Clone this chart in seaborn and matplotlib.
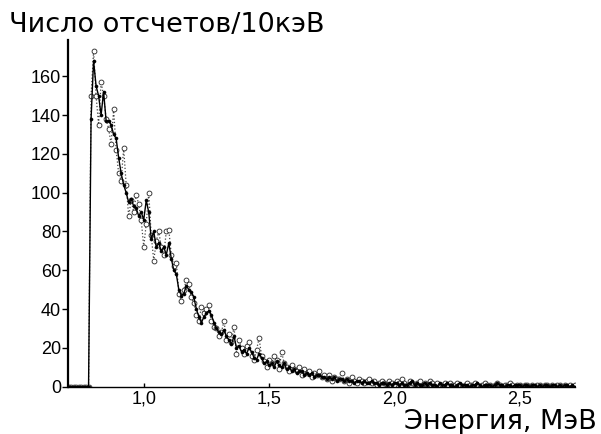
import numpy as np
import matplotlib
matplotlib.use("Agg")
import matplotlib.pyplot as plt
import seaborn as sns

# Counts per 10 keV bin, starting at 0.70 MeV
series_a = ([0, 0, 0, 0, 0, 0, 0, 0, 0,
             138, 168, 155, 150, 140, 152, 137, 137, 135, 130,
             128, 118, 110, 104, 100, 95, 97, 93, 92, 88,
             90, 86, 96, 90, 76, 80, 72, 74, 70, 72,
             68, 74, 66, 60, 58, 50, 47, 48, 52, 50,
             49, 46, 40, 36, 33, 36, 38, 39, 37, 33,
             30, 28, 27, 29, 26, 24, 22, 26, 20, 21,
             18, 19, 17, 20, 18, 15, 14, 17, 15, 12,
             13, 11, 12, 10, 13, 11, 10, 12, 9, 10,
             8, 9, 7, 8, 8, 6, 7, 6, 7, 5,
             6, 6, 5, 5, 4, 5, 4, 5, 3, 4,
             4, 3,
             4, 3, 3, 2, 3, 3, 2, 3, 2, 2, 3, 2, 2, 1, 2, 2, 1, 2, 1, 2,
             2, 1, 2, 1, 1, 2, 3, 1, 2, 1, 1, 2, 1, 2, 1, 1, 0, 2, 1, 1,
             2, 1, 1, 0, 1, 2, 1, 1, 1, 0, 1, 1, 2, 1, 0, 1, 1, 1, 0, 1,
             2, 1, 1, 0, 1, 1, 0, 1, 1, 1, 0, 1, 1, 0, 1, 1, 0, 1, 0, 1,
             1, 0, 1, 1, 0, 1, 0, 1, 1, 0, 1, 0])

series_b = ([0, 0, 0, 0, 0, 0, 0, 0, 0,
             150, 173, 150, 135, 157, 150, 138, 133, 125, 143,
             122, 110, 106, 123, 104, 88, 96, 90, 99, 94,
             86, 72, 84, 100, 78, 65, 75, 80, 72, 68,
             80, 81, 68, 62, 64, 48, 44, 50, 55, 53,
             46, 43, 37, 34, 41, 38, 40, 42, 34, 31,
             30, 26, 28, 34, 24, 27, 23, 31, 17, 24,
             20, 17, 21, 23, 16, 14, 19, 25, 16, 13,
             10, 14, 12, 16, 14, 9, 18, 12, 10, 8,
             11, 9, 8, 10, 6, 9, 7, 8, 5, 7,
             6, 8, 5, 6, 4, 6, 3, 5, 4, 4,
             7, 3,
             4, 2, 5, 3, 2, 4, 3, 2, 3, 4, 2, 3, 1, 2, 3, 2, 1, 3, 2, 1,
             3, 2, 4, 2, 1, 3, 2, 1, 2, 3, 1, 2, 1, 3, 2, 1, 2, 0, 1, 2,
             1, 2, 1, 1, 2, 1, 0, 1, 2, 1, 1, 2, 1, 0, 1, 2, 1, 1, 0, 1,
             2, 1, 0, 1, 1, 2, 1, 0, 1, 1, 0, 1, 1, 0, 1, 0, 1, 1, 0, 1,
             1, 0, 1, 0, 1, 1, 0, 1, 0, 1, 0, 1])

e_start = 0.70
bin_width = 0.01
energy_a = e_start + bin_width * np.arange(len(series_a))
energy_b = e_start + bin_width * np.arange(len(series_b))

y_ticks = [0, 20, 40, 60, 80, 100, 120, 140, 160]
x_ticks = [1.0, 1.5, 2.0, 2.5]
x_tick_labels = ["1,0", "1,5", "2,0", "2,5"]
y_title = "Число отсчетов/10кэВ"
x_title = "Энергия, МэВ"

sns.set_style("ticks")
plt.rcParams["font.family"] = ["Liberation Sans", "DejaVu Sans"]
plt.rcParams["text.color"] = "black"
plt.rcParams["xtick.color"] = "black"
plt.rcParams["ytick.color"] = "black"
plt.rcParams["axes.edgecolor"] = "black"

W, H = 601, 434
fig = plt.figure(figsize=(W / 100, H / 100), dpi=100)
ax = fig.add_axes([68 / W, 47.3 / H, (575 - 68) / W, (386.7 - 40) / H])

sns.lineplot(x=energy_b, y=series_b, ax=ax, color="#444444", linestyle=":",
             linewidth=0.9, marker="o", markersize=3.5, markerfacecolor="white",
             markeredgecolor="#222222", markeredgewidth=0.6)
sns.lineplot(x=energy_a, y=series_a, ax=ax, color="black", linewidth=1.0,
             marker="o", markersize=2.2, markerfacecolor="black",
             markeredgecolor="black", markeredgewidth=0.4)

ax.set_xlim(0.698, 2.72)
ax.set_ylim(0, 178.7)
ax.set_yticks(y_ticks)
ax.set_xticks(x_ticks)
ax.set_xticklabels(x_tick_labels)
ax.tick_params(axis="y", direction="out", length=4, width=1, pad=1, labelsize=13,
               colors="black")
ax.tick_params(axis="x", direction="in", length=3, width=1, pad=3, labelsize=13,
               colors="black")
for s in ["top", "right"]:
    ax.spines[s].set_visible(False)
ax.spines["left"].set_linewidth(1.6)
ax.spines["bottom"].set_linewidth(1.0)
ax.set_xlabel("")
ax.set_ylabel("")

title_font = ["DejaVu Sans"]
fig.text(9 / W, 1 - 32 / H, y_title, fontsize=19.5, ha="left", va="baseline",
         family=title_font, color="black")
fig.text(597 / W, 1 - 429 / H, x_title, fontsize=19.5, ha="right", va="baseline",
         family=title_font, color="black")

fig.savefig("out.png", dpi=100, facecolor="white")
